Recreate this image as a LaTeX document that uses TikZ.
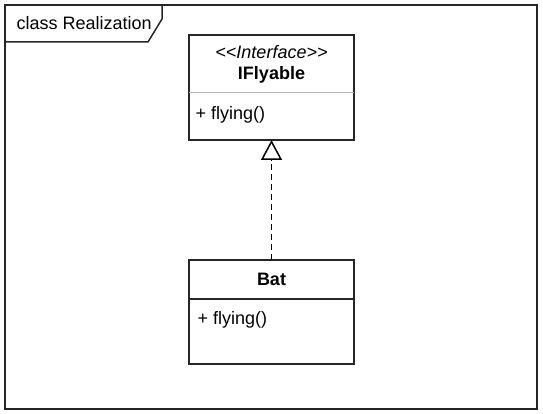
\documentclass[tikz,border=0pt]{standalone}
\usepackage{fontspec}
\setmainfont{Liberation Sans}
\usetikzlibrary{arrows.meta, positioning}

\begin{document}
\begin{tikzpicture}[x=1pt, y=-1pt,
				>={Triangle[open, length=20pt, width=21pt]},   %Pfeilspitze Realisierung
				rahmen/.style={draw=black!85, line width=1.5pt},
				kopf/.style={minimum width=165pt, inner sep=0pt, outer sep=0pt, align=center},
				teil/.style={minimum width=165pt, inner sep=0pt, outer sep=0pt},
				font=\fontsize{18}{21}\selectfont]
				\useasboundingbox (0,0) rectangle (543,414);
				%Rahmen zeichnen
				\draw[rahmen] (5,5) rectangle (537,409);
				\draw[rahmen] (5,42) -- (148,42) -- (162,19) -- (162,5);
				\node[anchor=west] (titel) at (13,23) {class Realization};
				% Interface
				\node[kopf, minimum height=58pt] (ifkopf) at (271.5,64) {\textit{{<}{<}Interface{>}{>}}\\ \textbf{IFlyable}};
				\node[teil, minimum height=47pt, below=0pt of ifkopf] (ifteil) {};
				\draw[rahmen] (ifkopf.north west) rectangle (ifteil.south east);
				\draw[gray!60, line width=1pt] (ifkopf.south west) -- (ifkopf.south east);
				\node[anchor=west, xshift=3pt, yshift=-22pt] (ifop) at (ifteil.north west) {+ flying()};
				% Klasse
				\node[kopf, minimum height=39pt] (batkopf) at (271.5,279.5) {\textbf{Bat}};
				\node[teil, minimum height=65pt, below=0pt of batkopf] (batteil) {};
				\draw[rahmen] (batkopf.north west) rectangle (batteil.south east);
				\draw[rahmen] (batkopf.south west) -- (batkopf.south east);
				\node[anchor=west, xshift=5pt, yshift=-21pt] (batop) at (batteil.north west) {+ flying()};
				%Realisierung
				\draw[->, line width=1.5pt, dash pattern=on 6pt off 4pt] (batkopf) -- (ifteil);
\end{tikzpicture}
\end{document}
